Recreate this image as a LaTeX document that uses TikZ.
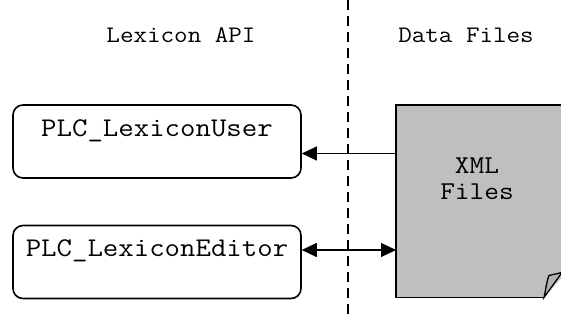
\documentclass[tikz,border=0pt]{standalone}
\usepackage{fontspec}
\newfontfamily\typefont[FakeStretch=1.11]{Latin Modern Mono}
\usetikzlibrary{arrows.meta}
\begin{document}
\begin{tikzpicture}[x=1pt,y=-1pt,
  apibox/.style={draw=black, line width=1.6pt, rounded corners=10pt,
    minimum width=288pt, minimum height=73pt, inner sep=0pt},
  boxtext/.style={font=\typefont\fontsize{27}{29}\selectfont, inner sep=0pt},
  headtext/.style={font=\typefont\fontsize{23.7}{25}\selectfont, inner sep=0pt},
  doctext/.style={font=\typefont\fontsize{25.7}{27}\selectfont, inner sep=0pt, align=center},
  link/.style={line width=1.1pt, -{Triangle[length=15pt,width=14pt]}},
  biglink/.style={line width=1.1pt, {Triangle[length=15pt,width=14pt]}-{Triangle[length=15pt,width=14pt]}}]
\useasboundingbox (0,0) rectangle (561,320);

% divider between the two columns
\coordinate (divtop) at (348,0);
\coordinate (divbot) at (348,320);
\draw[line width=1.5pt, dash pattern=on 10pt off 6pt] (divtop) -- (divbot);

% column headings
\node[headtext] (hapi) at (181,35) {Lexicon API};
\node[headtext] (hdata) at (466,35) {Data Files};

% API classes
\node[apibox] (user) at (157,141.5) {};
\node[boxtext] (usertxt) at (157,131) {PLC\_LexiconUser};
\node[apibox] (editor) at (157,262) {};
\node[boxtext] (editortxt) at (157,251) {PLC\_LexiconEditor};

% document with curled corner
\fill[fill=black!25] (396,105) -- (570,105) -- (570,268) -- (544,297.5) -- (396,297.5) -- cycle;
\draw[line width=1.5pt] (570,105) -- (396,105) -- (396,297.5) -- (544,297.5);
\draw[line width=1.3pt, fill=black!30] (544,297.5) .. controls (546,288) and (547,280) .. (549,275.5) -- (562,272.5) -- cycle;
\coordinate (docin) at (396,153.5);
\coordinate (docio) at (396,250);
\node[doctext] (doctxt) at (477,179) {XML\\[-1pt]Files};

% connectors
\draw[link] (docin) -- (user.east |- docin);
\draw[biglink] (editor.east |- docio) -- (docio);
\end{tikzpicture}
\end{document}
